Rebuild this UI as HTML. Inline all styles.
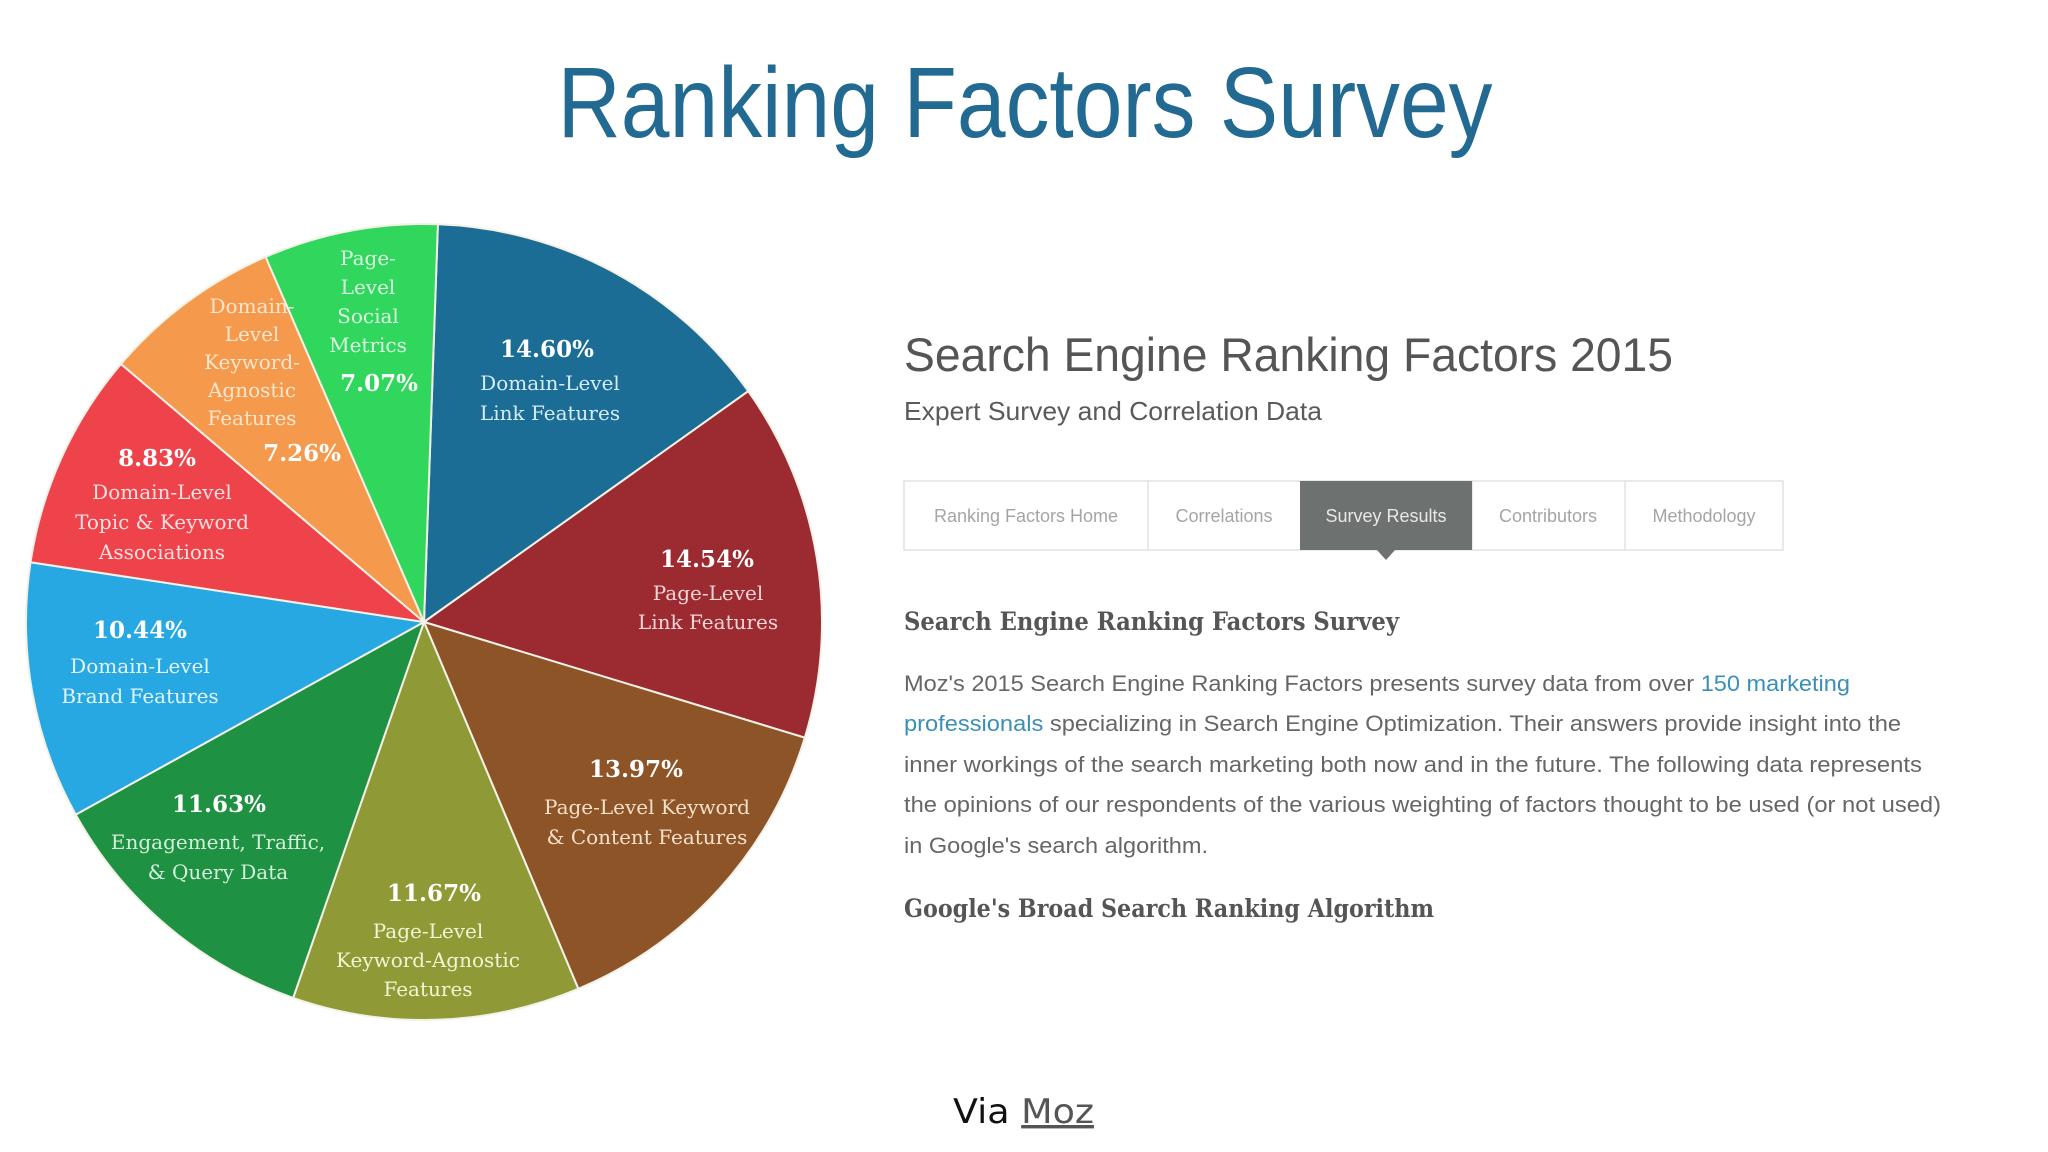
<!DOCTYPE html>
<html><head><meta charset="utf-8">
<style>
html,body{margin:0;padding:0;background:#fff;}
svg{display:block;}
</style></head>
<body>
<svg id="root" width="2048" height="1152" viewBox="0 0 2048 1152" xmlns="http://www.w3.org/2000/svg">
  <rect width="2048" height="1152" fill="#ffffff"/>
  <text x="1025" y="137" text-anchor="middle" font-family="Liberation Sans, sans-serif" font-size="100" fill="#226a92" textLength="935" lengthAdjust="spacingAndGlyphs">Ranking Factors Survey</text>

  <g id="pie"></g>

  <g font-family="Liberation Sans, sans-serif">
    <text x="904" y="371" font-size="47" fill="#555" textLength="769" lengthAdjust="spacingAndGlyphs">Search Engine Ranking Factors 2015</text>
    <text x="904" y="420" font-size="26" fill="#5a5a5a" textLength="418" lengthAdjust="spacingAndGlyphs">Expert Survey and Correlation Data</text>
    <g>
      <rect x="904" y="481" width="879" height="69" fill="#fff" stroke="#e2e2e2" stroke-width="1.5"/>
      <line x1="1148" y1="481" x2="1148" y2="550" stroke="#e2e2e2" stroke-width="1.5"/>
      <line x1="1472" y1="481" x2="1472" y2="550" stroke="#e2e2e2" stroke-width="1.5"/>
      <line x1="1625" y1="481" x2="1625" y2="550" stroke="#e2e2e2" stroke-width="1.5"/>
      <rect x="1300" y="481" width="172" height="69" fill="#6d716f"/>
      <polygon points="1377,550 1395,550 1386,560" fill="#6d716f"/>
      <text x="1026" y="522" text-anchor="middle" font-size="18" fill="#a5a5a5">Ranking Factors Home</text>
      <text x="1224" y="522" text-anchor="middle" font-size="18" fill="#a5a5a5">Correlations</text>
      <text x="1386" y="522" text-anchor="middle" font-size="18" fill="#e8e8e8">Survey Results</text>
      <text x="1548" y="522" text-anchor="middle" font-size="18" fill="#a5a5a5">Contributors</text>
      <text x="1704" y="522" text-anchor="middle" font-size="18" fill="#a5a5a5">Methodology</text>
    </g>
    <text x="904" y="630" font-family="DejaVu Serif, serif" font-weight="bold" font-size="25" fill="#555" textLength="495" lengthAdjust="spacingAndGlyphs">Search Engine Ranking Factors Survey</text>
    <g font-size="22" fill="#666">
      <text x="904" y="691" textLength="946" lengthAdjust="spacingAndGlyphs">Moz's 2015 Search Engine Ranking Factors presents survey data from over <tspan fill="#3a8fb7">150 marketing</tspan></text>
      <text x="904" y="731" textLength="997" lengthAdjust="spacingAndGlyphs"><tspan fill="#3a8fb7">professionals</tspan> specializing in Search Engine Optimization. Their answers provide insight into the</text>
      <text x="904" y="772" textLength="1018" lengthAdjust="spacingAndGlyphs">inner workings of the search marketing both now and in the future. The following data represents</text>
      <text x="904" y="812" textLength="1037" lengthAdjust="spacingAndGlyphs">the opinions of our respondents of the various weighting of factors thought to be used (or not used)</text>
      <text x="904" y="853" textLength="304" lengthAdjust="spacingAndGlyphs">in Google's search algorithm.</text>
    </g>
    <text x="904" y="917" font-family="DejaVu Serif, serif" font-weight="bold" font-size="25" fill="#555" textLength="530" lengthAdjust="spacingAndGlyphs">Google's Broad Search Ranking Algorithm</text>
  </g>

  <text x="953" y="1123" font-family="DejaVu Sans, sans-serif" font-size="34" fill="#111" textLength="141" lengthAdjust="spacingAndGlyphs">Via <tspan fill="#555" text-decoration="underline">Moz</tspan></text>
</svg>
<script>
const categories = ["Domain-Level Link Features","Page-Level Link Features","Page-Level Keyword & Content Features","Page-Level Keyword-Agnostic Features","Engagement, Traffic, & Query Data","Domain-Level Brand Features","Domain-Level Topic & Keyword Associations","Domain-Level Keyword-Agnostic Features","Page-Level Social Metrics"];
const values = [14.60, 14.54, 13.97, 11.67, 11.63, 10.44, 8.83, 7.26, 7.07];
const valueLabels = ["14.60%","14.54%","13.97%","11.67%","11.63%","10.44%","8.83%","7.26%","7.07%"];
const labelLines = [["Domain-Level","Link Features"],["Page-Level","Link Features"],["Page-Level Keyword","& Content Features"],["Page-Level","Keyword-Agnostic","Features"],["Engagement, Traffic,","& Query Data"],["Domain-Level","Brand Features"],["Domain-Level","Topic & Keyword","Associations"],["Domain-","Level","Keyword-","Agnostic","Features"],["Page-","Level","Social","Metrics"]];

const colors = ["#1b6d96","#9b2a31","#8d5428","#8f9a36","#1f9142","#27a8e2","#ee434b","#f59a4c","#31d65c"];
const textColors = ["#d6ecf8","#f6d5d7","#f5e0cc","#f2f4d4","#d3f0dc","#e3f5fd","#fde0e1","#fde6d0","#dcfbe4"];
const CX = 424, CY = 622, R = 398;
const ROT = 2 * Math.PI / 180;
const labelLayout = [
  [547,348,550,382,30,false],[707,558,708,592,29,false],[636,768,647,806,30,false],
  [434,892,428,930,29,false],[219,803,218,841,30,false],[140,629,140,665,30,false],
  [157,457,162,491,30,false],[302,452,252,305,28,true],[379,382,368,257,29,true]
];

const NS = "http://www.w3.org/2000/svg";
const pie = document.getElementById("pie");
const total = values.reduce((a,b)=>a+b,0);
function angleScale(v){ return v/total*2*Math.PI; }
function pt(a,r){ return [CX + r*Math.sin(a), CY - r*Math.cos(a)]; }
let start = ROT;
values.forEach((v,i)=>{
  const end = start + angleScale(v);
  const [x1,y1] = pt(start,R), [x2,y2] = pt(end,R);
  const large = (end-start) > Math.PI ? 1 : 0;
  const p = document.createElementNS(NS,"path");
  p.setAttribute("d",`M${CX},${CY} L${x1},${y1} A${R},${R} 0 ${large} 1 ${x2},${y2} Z`);
  p.setAttribute("fill",colors[i]);
  p.setAttribute("stroke","#f4f1e6");
  p.setAttribute("stroke-width","2");
  
  
  pie.appendChild(p);
  start = end;
});
values.forEach((v,i)=>{
  const L = labelLayout[i];
  const g = document.createElementNS(NS,"g");
  
  
  const pct = document.createElementNS(NS,"text");
  pct.setAttribute("x",L[0]); pct.setAttribute("y",L[1]+9);
  pct.setAttribute("text-anchor","middle");
  pct.setAttribute("font-family","DejaVu Serif, serif");
  pct.setAttribute("font-weight","bold");
  pct.setAttribute("font-size","23");
  pct.setAttribute("fill","#ffffff");
  pct.textContent = valueLabels[i];
  g.appendChild(pct);
  labelLines[i].forEach((ln,j)=>{
    const t = document.createElementNS(NS,"text");
    t.setAttribute("x",L[2]); t.setAttribute("y",L[3]+j*L[4]+8);
    t.setAttribute("text-anchor","middle");
    t.setAttribute("font-family","DejaVu Serif, serif");
    t.setAttribute("font-size","20");
    t.setAttribute("fill",textColors[i]);
    t.textContent = ln;
    g.appendChild(t);
  });
  pie.appendChild(g);
});
</script>
</body></html>
